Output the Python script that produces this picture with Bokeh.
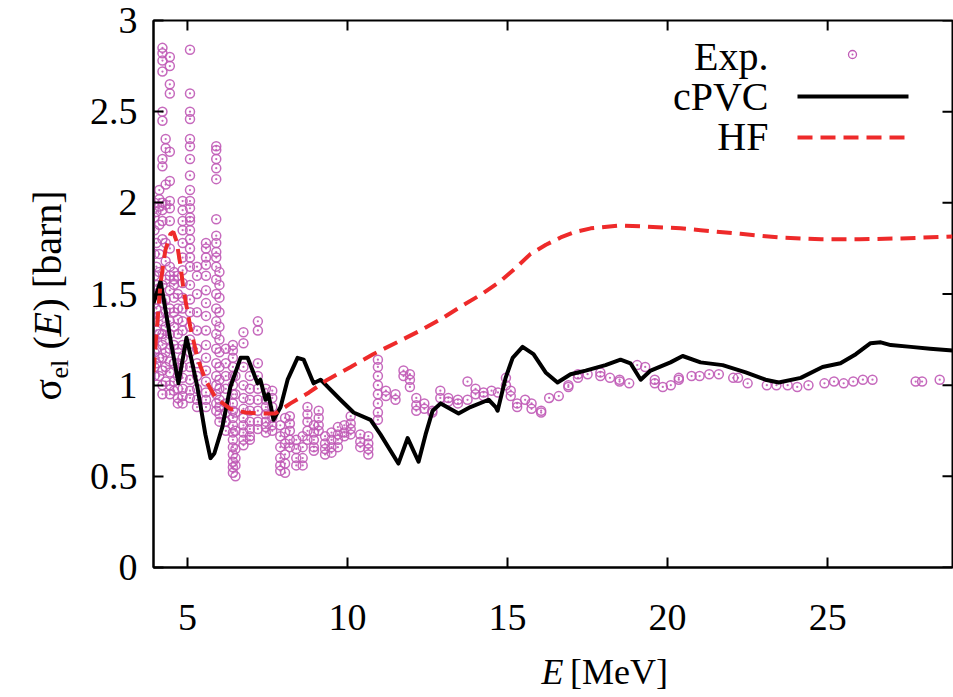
from bokeh.plotting import figure
from bokeh.models import Range1d, FixedTicker, NumeralTickFormatter, Label
from bokeh.layouts import row, column
from bokeh.core.properties import value
from bokeh.embed import file_html
from bokeh.resources import INLINE

# ---------------- data ----------------
x_ticks = [5, 10, 15, 20, 25]
y_ticks = [0, 0.5, 1, 1.5, 2, 2.5, 3]

cpvc_E = [3.94, 4.16, 4.25, 4.47, 4.72, 4.97, 5.09, 5.31, 5.56, 5.72, 5.84, 6.09,
          6.34, 6.66, 6.88, 7.19, 7.28, 7.44, 7.53, 7.69, 7.91, 8.13, 8.44, 8.63,
          8.94, 9.16, 9.78, 10.19, 10.72, 11.03, 11.59, 11.88, 12.22, 12.44, 12.66,
          12.91, 13.47, 13.84, 14.41, 14.63, 14.69, 14.94, 15.16, 15.47, 15.81,
          16.19, 16.56, 16.97, 17.44, 18.06, 18.53, 18.84, 19.16, 19.47, 20.09,
          20.47, 21.03, 21.72, 22.44, 23.06, 23.47, 24.16, 24.84, 25.4, 25.88,
          26.34, 26.66, 26.97, 27.6, 28.2, 28.9]
cpvc_sigma = [1.45, 1.57, 1.48, 1.25, 1.01, 1.26, 1.17, 0.99, 0.73, 0.60, 0.625, 0.77,
              0.99, 1.15, 1.15, 1.01, 1.03, 0.92, 0.95, 0.81, 0.88, 1.03, 1.15, 1.14,
              1.01, 1.03, 0.92, 0.85, 0.81, 0.73, 0.57, 0.71, 0.58, 0.73, 0.86,
              0.90, 0.845, 0.88, 0.92, 0.88, 0.86, 1.04, 1.15, 1.21, 1.17,
              1.07, 1.015, 1.06, 1.08, 1.11, 1.14, 1.12, 1.03, 1.08, 1.125,
              1.16, 1.125, 1.11, 1.07, 1.03, 1.015, 1.04, 1.10, 1.12, 1.17,
              1.23, 1.235, 1.22, 1.21, 1.20, 1.19]

hf_E = [3.94, 4.03, 4.16, 4.31, 4.47, 4.56, 4.66, 4.78, 4.88, 5.09, 5.31, 5.56,
        5.88, 6.34, 6.81, 7.28, 7.75, 8.22, 8.8, 9.375, 10.1, 10.8, 11.66, 12.28,
        12.9, 13.53, 14.2, 14.78, 15.3, 15.72, 16.2, 16.66, 17.1, 17.6, 18.53,
        19.3, 20.4, 21.03, 22.28, 23.5, 24.8, 26.0, 27.3, 28.9]
hf_sigma = [1.07, 1.28, 1.56, 1.74, 1.83, 1.84, 1.79, 1.66, 1.52, 1.32, 1.15, 1.03,
            0.93, 0.87, 0.85, 0.845, 0.845, 0.90, 0.96, 1.03, 1.10, 1.17, 1.245, 1.30,
            1.36, 1.43, 1.50, 1.57, 1.65, 1.72, 1.77, 1.81, 1.84, 1.86, 1.876,
            1.87, 1.86, 1.85, 1.83, 1.81, 1.80, 1.80, 1.805, 1.815]

# experimental points, grouped by energy column
col_E = [3.97, 4.03, 4.12, 4.22, 4.32, 4.45, 4.58, 4.7, 4.85, 5.08, 5.3, 5.58,
         5.9, 6.0, 6.2, 6.42, 6.5, 6.75, 6.95, 7.2, 7.45, 7.65, 7.9, 8.05, 8.2,
         8.4, 8.6, 8.75, 8.95, 9.1, 9.3, 9.5, 9.7, 9.9, 10.1, 10.4, 10.65, 10.95,
         11.2, 11.5, 11.75, 11.95, 12.15, 12.4, 12.65, 12.9, 13.15, 13.45, 13.75,
         14.0, 14.25, 14.5, 14.7, 14.95, 15.1, 15.3, 15.55, 15.75, 16.05, 16.3,
         16.6, 16.9, 17.2, 17.5, 17.9, 18.2, 18.5, 18.8, 19.05, 19.3, 19.6, 19.85,
         20.1, 20.35, 20.75, 21.0, 21.3, 21.6, 22.05, 22.2, 22.5, 23.1, 23.4,
         23.75, 24.05, 24.4, 24.9, 25.2, 25.5, 25.8, 26.1, 26.4, 27.75, 27.95, 28.5]
col_sigma = [
    [2.0, 1.92, 1.85, 1.72, 1.6, 1.52, 1.45, 1.35, 1.25, 1.18, 1.1, 1.05],
    [1.95, 1.78, 1.65, 1.55, 1.42, 1.3, 1.2, 1.12],
    [2.07, 2.02, 1.98, 1.88, 1.72, 1.62, 1.5, 1.38, 1.28, 1.15, 1.05],
    [2.85, 2.82, 2.78, 2.72, 2.5, 2.45, 2.24, 2.2, 2.0, 1.96, 1.9, 1.8, 1.55,
     1.45, 1.35, 1.28, 1.22, 1.15, 1.08, 1.0, 0.95],
    [2.35, 2.3, 2.1, 1.99, 1.78, 1.68, 1.58, 1.47, 1.4, 1.32, 1.25, 1.18, 1.1, 1.02],
    [2.8, 2.75, 2.65, 2.6, 2.28, 2.12, 2.01, 1.97, 1.9, 1.75, 1.65, 1.6, 1.52,
     1.42, 1.35, 1.28, 1.2, 1.13, 1.07, 1.0, 0.95],
    [1.62, 1.58, 1.55, 1.48, 1.4, 1.32, 1.22, 1.12, 1.02, 0.97],
    [1.6, 1.5, 1.42, 1.36, 1.28, 1.2, 1.12, 1.05, 0.98, 0.93, 0.9],
    [2.01, 1.96, 1.9, 1.85, 1.78, 1.7, 1.63, 1.56, 1.48, 1.42, 1.35, 1.3, 1.22,
     1.15, 1.1, 1.04, 0.98, 0.94, 0.9],
    [2.84, 2.6, 2.5, 2.46, 2.35, 2.31, 2.24, 2.15, 2.07, 2.01, 1.97, 1.92, 1.9,
     1.85, 1.8, 1.75, 1.7, 1.65, 1.55, 1.47, 1.4, 1.32, 1.25, 1.18, 1.1, 1.03,
     0.97, 0.93],
    [1.65, 1.6, 1.5, 1.4, 1.3, 1.2, 1.12, 1.05, 0.98, 0.92, 0.88],
    [1.78, 1.75, 1.7, 1.66, 1.6, 1.52, 1.45, 1.38, 1.3, 1.22, 1.15, 1.08, 1.02,
     0.96, 0.92, 0.88],
    [2.31, 2.29, 2.24, 2.19, 2.13, 1.91, 1.82, 1.78, 1.73, 1.7, 1.65, 1.58, 1.5,
     1.42, 1.35, 1.28, 1.2, 1.12, 1.05, 1.0, 0.95, 0.9, 0.86],
    [1.62, 1.55, 1.48, 1.4, 1.32, 1.25, 1.18, 1.1, 1.03, 0.98, 0.92, 0.88, 0.84, 0.8],
    [1.2, 1.12, 1.05, 0.98, 0.9, 0.85, 0.8, 0.75],
    [1.22, 1.19, 1.15, 1.1, 1.05, 1.0, 0.95, 0.9, 0.86, 0.82, 0.78, 0.74, 0.7,
     0.66, 0.62, 0.58, 0.55, 0.52],
    [1.05, 0.95, 0.85, 0.75, 0.65, 0.6, 0.56, 0.5],
    [1.29, 1.23, 1.1, 1.0, 0.93, 0.87, 0.82, 0.78, 0.74, 0.7, 0.67],
    [1.05, 0.98, 0.92, 0.86, 0.8, 0.76, 0.72, 0.7],
    [1.35, 1.3, 1.12, 1.05, 0.98, 0.92, 0.86, 0.8, 0.76],
    [0.98, 0.92, 0.88, 0.84, 0.8, 0.77, 0.74],
    [0.97, 0.93, 0.88, 0.82, 0.78, 0.75],
    [0.78, 0.72, 0.66, 0.6, 0.56, 0.53],
    [0.82, 0.74, 0.68, 0.62, 0.57, 0.52],
    [0.83, 0.79, 0.75, 0.7, 0.66],
    [0.7, 0.65, 0.6, 0.56],
    [0.72, 0.66, 0.6, 0.56],
    [0.88, 0.84, 0.8, 0.75, 0.7],
    [0.78, 0.74, 0.7, 0.66, 0.64],
    [0.86, 0.82, 0.78, 0.75],
    [0.72, 0.68, 0.65, 0.62],
    [0.74, 0.7, 0.66, 0.63],
    [0.77, 0.73, 0.7, 0.66],
    [0.78, 0.74, 0.72],
    [0.83, 0.79, 0.76, 0.73],
    [0.73, 0.69, 0.66],
    [0.72, 0.68, 0.65, 0.62],
    [1.14, 1.1, 1.05, 1.0, 0.95, 0.9, 0.85, 0.81],
    [0.97, 0.94],
    [0.95, 0.92],
    [1.08, 1.05],
    [1.06, 1.03, 0.99],
    [0.93, 0.89, 0.86],
    [0.9, 0.87],
    [0.86, 0.85],
    [0.97, 0.93],
    [0.93, 0.91],
    [0.92, 0.9],
    [1.02, 0.92],
    [0.98, 0.95],
    [0.96, 0.94],
    [0.97],
    [0.96],
    [1.04, 1.0],
    [0.97, 0.94],
    [0.9, 0.88],
    [0.92],
    [0.9, 0.87],
    [0.86, 0.85],
    [0.93],
    [0.94],
    [0.99, 1.0],
    [1.06, 1.04],
    [1.06],
    [1.07, 1.05],
    [1.04],
    [1.03, 1.02],
    [1.01],
    [1.11],
    [1.1],
    [1.03, 1.01],
    [0.99],
    [1.0],
    [1.03, 1.04],
    [1.05],
    [1.05],
    [1.06],
    [1.06],
    [1.04],
    [1.04],
    [1.01],
    [1.0],
    [1.0],
    [1.0],
    [0.99],
    [1.0],
    [1.01],
    [1.02],
    [1.01],
    [1.02],
    [1.03],
    [1.03],
    [1.02],
    [1.02],
    [1.03],
]

exp_E, exp_sigma = [], []
for e, ys in zip(col_E, col_sigma):
    for s in ys:
        exp_E.append(e)
        exp_sigma.append(s)

# ---------------- layout (page pixels) ----------------
W, H = 953, 697
LEFT_W = 80          # strip holding the rotated y title
BOT_H = 48           # strip holding the x title
FRAME_L, FRAME_R, FRAME_T, FRAME_B = 153, 952, 20, 567
X0, X1 = 3.94, 28.9
Y0, Y1 = 0.0, 3.0
ppx = (FRAME_R - FRAME_L) / (X1 - X0)
ppy = (FRAME_B - FRAME_T) / (Y1 - Y0)
BASE_SHIFT = 0.36    # bokeh's "alphabetic" anchor sits this many ems above the baseline


def dx(px):
    return X0 + (px - FRAME_L) / ppx


def dy(py):
    return Y0 + (FRAME_B - py) / ppy


SERIF = "Liberation Serif"
EXP_COLOR = "#c05ab6"
HF_COLOR = "#ee2a2a"
TICK_FS = "38px"

main_w = W - LEFT_W
main_h = H - BOT_H
p = figure(width=main_w, height=main_h, x_range=Range1d(X0, X1), y_range=Range1d(Y0, Y1),
           output_backend="svg", toolbar_location=None,
           min_border_left=FRAME_L - LEFT_W, min_border_right=W - FRAME_R,
           min_border_top=FRAME_T, min_border_bottom=main_h - FRAME_B)
p.background_fill_color = "white"
p.border_fill_color = "white"
p.outline_line_color = "black"
p.outline_line_width = 2
p.xgrid.visible = False
p.ygrid.visible = False

for ax in (p.xaxis[0], p.yaxis[0]):
    ax.axis_line_width = 2
    ax.axis_line_color = "black"
    ax.major_tick_in = 10
    ax.major_tick_out = 0
    ax.major_tick_line_width = 2
    ax.major_tick_line_color = "black"
    ax.minor_tick_line_color = None
    ax.major_label_text_font = SERIF
    ax.major_label_text_font_size = TICK_FS
    ax.major_label_text_color = "black"
    ax.axis_label = None

p.xaxis.ticker = FixedTicker(ticks=x_ticks)
p.yaxis.ticker = FixedTicker(ticks=y_ticks)
p.yaxis.formatter = NumeralTickFormatter(format="0.[0]")
p.xaxis.major_label_standoff = 37
p.yaxis.major_label_standoff = 16

# mirrored inner ticks on top and right frame edges
tl_y = 10 / ppy
tl_x = 10 / ppx
p.segment(x0=x_ticks, y0=[Y1] * len(x_ticks), x1=x_ticks, y1=[Y1 - tl_y] * len(x_ticks),
          line_color="black", line_width=2)
p.segment(x0=[X1] * len(y_ticks), y0=y_ticks, x1=[X1 - tl_x] * len(y_ticks), y1=y_ticks,
          line_color="black", line_width=2)

# data
p.scatter(exp_E, exp_sigma, marker="circle_dot", size=9, fill_color=None,
          line_color=EXP_COLOR, line_width=1.5, line_alpha=0.9)
p.line(cpvc_E, cpvc_sigma, line_color="black", line_width=4, line_join="round")
p.line(hf_E, hf_sigma, line_color=HF_COLOR, line_width=4, line_dash="15 8")

# legend (gnuplot style: text left, sample right)
LEG_FS = 40
for txt, py in (("Exp.", 70), ("cPVC", 110), ("HF", 150)):
    p.add_layout(Label(x=dx(768), y=dy(py - BASE_SHIFT * LEG_FS), text=txt,
                       text_align="right", text_baseline="alphabetic", text_font=SERIF,
                       text_font_size=f"{LEG_FS}px", text_color="black"))
p.scatter([dx(852)], [dy(54)], marker="circle_dot", size=8, fill_color=None,
          line_color=EXP_COLOR, line_width=1.3)
p.line([dx(797), dx(908)], [dy(96), dy(96)], line_color="black", line_width=4)
p.line([dx(797), dx(908)], [dy(137), dy(137)], line_color=HF_COLOR, line_width=4,
       line_dash="15 8")


def strip(width, height):
    f = figure(width=width, height=height, x_range=Range1d(0, width),
               y_range=Range1d(0, height), output_backend="svg", toolbar_location=None,
               min_border=0, x_axis_location=None, y_axis_location=None)
    f.outline_line_color = None
    f.grid.visible = False
    f.background_fill_color = "white"
    f.border_fill_color = "white"
    return f


# y title strip (left); x = page px, y = page px measured from the bottom
left = strip(LEFT_W, H)
YT_FS = 40
SUB_FS = 26
base_x = 61                      # visual baseline of the rotated title
ys0 = 400                        # page y where the title starts (bottom end)
pieces = [
    # text, start page-y, baseline page-x, size, style
    ("σ", ys0, base_x, YT_FS, "normal"),
    ("el", ys0 - 22, base_x + 7, SUB_FS, "normal"),
    ("(", ys0 - 51, base_x, YT_FS, "normal"),
    ("E", ys0 - 64, base_x, YT_FS, "italic"),
    (") [barn]", ys0 - 89, base_x, YT_FS, "normal"),
]
for txt, py, px, fs, st in pieces:
    left.text(x=[px - BASE_SHIFT * fs], y=[H - py], text=[txt], angle=90,
              angle_units="deg", text_align="left", text_baseline="alphabetic",
              text_font=value(SERIF), text_font_size=value(f"{fs}px"),
              text_font_style=st, text_color="black")

# x title strip (bottom); y measured from the strip bottom (page y = H - y)
bottom = strip(main_w, BOT_H)
XT_FS = 36
e_left = 504 - LEFT_W
base_y = H - (684 - BASE_SHIFT * XT_FS)
bottom.text(x=[e_left], y=[base_y], text=["E"], text_align="left",
            text_baseline="alphabetic", text_font=value(SERIF),
            text_font_size=value(f"{XT_FS}px"), text_font_style="italic",
            text_color="black")
bottom.text(x=[e_left + 31], y=[base_y], text=["[MeV]"], text_align="left",
            text_baseline="alphabetic", text_font=value(SERIF),
            text_font_size=value(f"{XT_FS}px"), text_color="black")

layout = row(left, column(p, bottom, spacing=0), spacing=0)
open("out.html", "w").write(file_html(layout, INLINE))
